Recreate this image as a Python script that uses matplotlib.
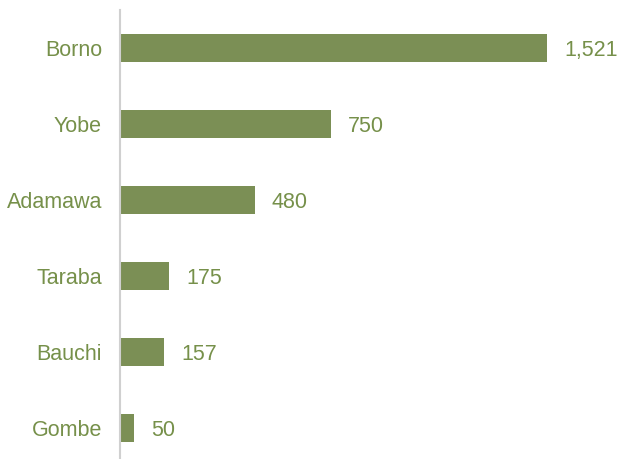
import matplotlib.pyplot as plt

plt.rcParams['font.family'] = ['Liberation Sans', 'DejaVu Sans']

states = ['Borno', 'Yobe', 'Adamawa', 'Taraba', 'Bauchi', 'Gombe']
values = [1521, 750, 480, 175, 157, 50]

bar_color = '#7B8F55'
text_color = '#76904A'

fig = plt.figure(figsize=(6.17, 4.59), dpi=100)
ax = fig.add_axes([120 / 617, -7 / 459, 480 / 617, 456 / 459])

pos = list(range(len(states)))
ax.barh(pos, values, height=0.36, color=bar_color)
for y, v in zip(pos, values):
    ax.text(v + 60, y, f'{v:,}', va='center_baseline', ha='left', fontsize=15.5, color=text_color)

ax.set_xlim(0, 480 / 0.2808)
ax.set_ylim(len(states) - 0.5, -0.5)
ax.set_yticks(pos)
ax.set_yticklabels(states, fontsize=15.5, color=text_color, va='center_baseline')
ax.tick_params(axis='y', length=0, pad=13)
ax.set_xticks([])
for s in ['top', 'right', 'bottom']:
    ax.spines[s].set_visible(False)
ax.spines['left'].set_color('#D0D0D0')
ax.spines['left'].set_linewidth(1.5)

fig.savefig('out.png', dpi=100)
